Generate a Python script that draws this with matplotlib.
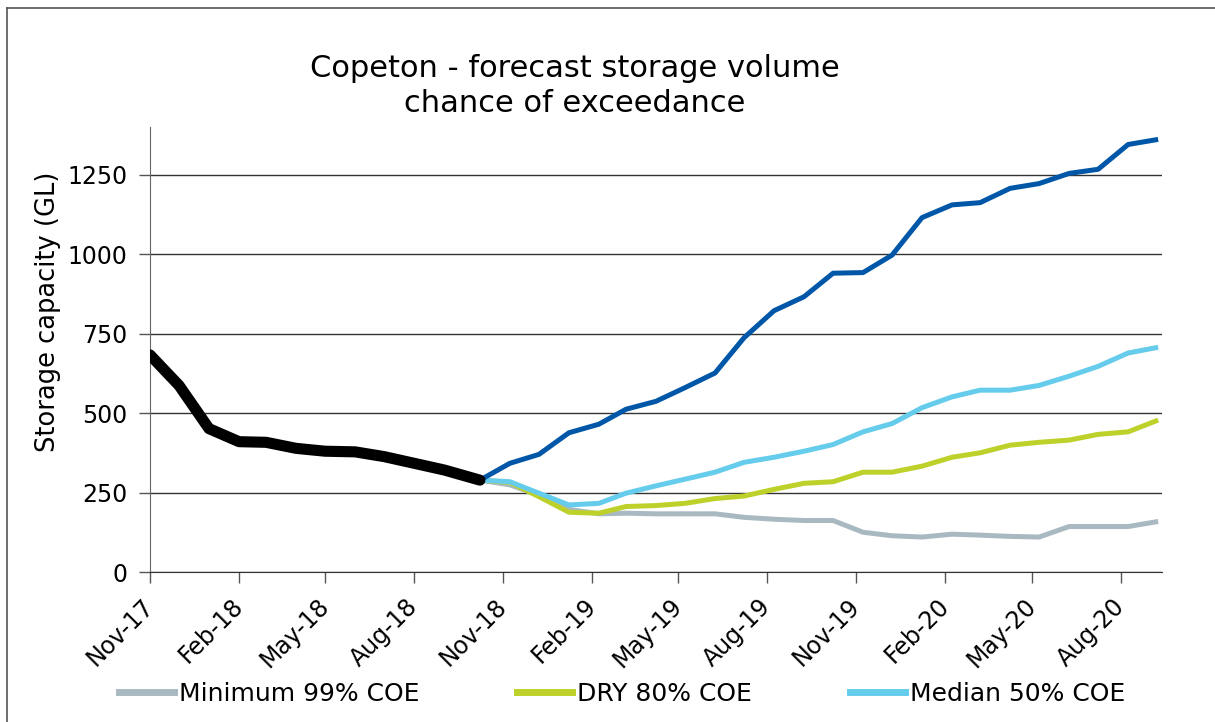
import matplotlib
matplotlib.use("Agg")
import matplotlib.pyplot as plt
import matplotlib.dates as mdates
from matplotlib.lines import Line2D
import numpy as np
import pandas as pd

plt.rcParams['font.family'] = ['DejaVu Sans']

# Historical observed storage (1st of month, Nov-17 .. Sep-18, then forecast start)
hist_dates = list(pd.date_range("2017-11-01", "2018-09-01", freq="MS")) + [pd.Timestamp("2018-10-08")]
hist_vals = [683, 587, 451, 410, 408, 389, 380, 378, 363, 342, 321, 289]

# Forecast dates (monthly from forecast start)
fc_dates = [pd.Timestamp("2018-10-08") + pd.DateOffset(months=i) for i in range(24)]
wet_vals = [289, 342, 370, 438, 465, 512, 537, 580, 626, 737, 822, 866,
            940, 942, 997, 1115, 1155, 1162, 1207, 1222, 1254, 1267, 1345, 1361]
median_vals = [289, 284, 248, 211, 216, 248, 271, 292, 314, 345, 361, 380,
               401, 441, 467, 517, 551, 572, 572, 587, 616, 647, 689, 707]
dry_vals = [289, 282, 237, 188, 185, 206, 209, 216, 231, 239, 260, 279,
            284, 314, 314, 333, 361, 375, 399, 408, 415, 433, 441, 478]
min_vals = [289, 274, 242, 197, 183, 185, 183, 183, 183, 172, 166, 162,
            162, 125, 114, 110, 119, 116, 112, 110, 143, 143, 143, 159]

title = "Copeton - forecast storage volume\nchance of exceedance"
ylabel = "Storage capacity (GL)"
yticks = [0, 250, 500, 750, 1000, 1250]

C_MIN = "#A9B9C2"
C_DRY = "#BDD12A"
C_MED = "#66CCEB"
C_WET = "#0057A8"

fig = plt.figure(figsize=(12.15, 7.22), dpi=100)
ax = fig.add_axes([150/1215, 1-572/722, (1162-150)/1215, (572-127)/722])

ax.plot(fc_dates, min_vals, color=C_MIN, lw=3.6, solid_capstyle='butt', zorder=3)
ax.plot(fc_dates, dry_vals, color=C_DRY, lw=3.6, solid_capstyle='butt', zorder=4)
ax.plot(fc_dates, median_vals, color=C_MED, lw=3.6, solid_capstyle='butt', zorder=5)
ax.plot(fc_dates, wet_vals, color=C_WET, lw=3.6, solid_capstyle='butt', zorder=6)
ax.plot(hist_dates, hist_vals, color="black", lw=8, solid_capstyle='round',
        solid_joinstyle='round', zorder=7)

ax.set_ylim(0, 1400)
ax.set_yticks(yticks)
ax.set_xlim(pd.Timestamp("2017-11-01"), pd.Timestamp("2020-09-12"))
ax.xaxis.set_major_locator(mdates.MonthLocator(bymonth=[2, 5, 8, 11]))
ax.xaxis.set_major_formatter(mdates.DateFormatter("%b-%y"))

ax.grid(axis='y', color='#333333', lw=1.0, zorder=1)
ax.set_axisbelow(True)
for s in ['top', 'right']:
    ax.spines[s].set_visible(False)
ax.spines['left'].set_color('#666666')
ax.spines['bottom'].set_color('#333333')
ax.tick_params(axis='both', direction='out', length=8, width=1, colors='#555555',
               labelcolor='black', labelsize=17)
ax.tick_params(axis='y', pad=8)
for lab in ax.get_xticklabels():
    lab.set_rotation(45)
    lab.set_ha('right')
    lab.set_va('center')
    lab.set_rotation_mode('anchor')
ax.tick_params(axis='x', pad=14)

ax.set_ylabel(ylabel, fontsize=18.5)
ax.yaxis.set_label_coords(-0.088, 0.585)

fig.text(575/1215, 1-86/722, title, ha='center', va='center', fontsize=22,
         linespacing=1.22)

handles = [Line2D([], [], color=C_MIN, lw=5),
           Line2D([], [], color=C_DRY, lw=5),
           Line2D([], [], color=C_MED, lw=5)]
labels = ["Minimum 99% COE", "DRY 80% COE", "Median 50% COE"]
fig.legend(handles, labels, loc='center', bbox_to_anchor=(622/1215, 1-694/722),
           ncol=3, frameon=False, fontsize=18, handlelength=2.2, handletextpad=0.2,
           columnspacing=3.9)

# outer frame (left and top edges visible)
fig.add_artist(Line2D([7/1215, 7/1215], [0, 1-8/722], transform=fig.transFigure,
                      color='#555555', lw=1.2))
fig.add_artist(Line2D([7/1215, 1], [1-8/722, 1-8/722], transform=fig.transFigure,
                      color='#555555', lw=1.2))

fig.savefig("out.png", dpi=100)
